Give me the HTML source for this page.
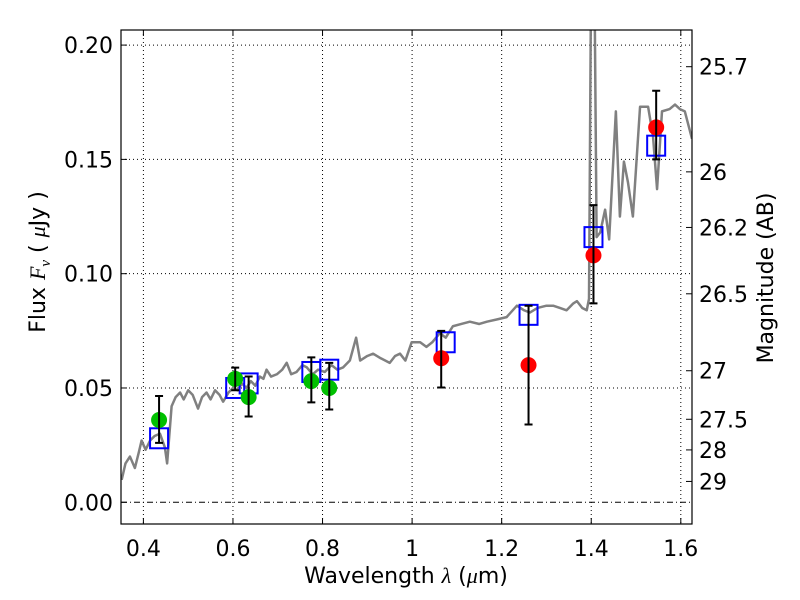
<!DOCTYPE html>
<html><head><meta charset="utf-8"><style>
body{margin:0;background:#fff;}
svg{display:block;font-family:"DejaVu Sans","Liberation Sans",sans-serif;}
</style></head><body>
<svg id="chart" width="800" height="600" viewBox="0 0 800 600"></svg>
<script>
const xTicks=[0.4,0.6,0.8,1.0,1.2,1.4,1.6];
const xTickLabels=["0.4","0.6","0.8","1","1.2","1.4","1.6"];
const yTicks=[0,0.05,0.10,0.15,0.20];
const yTickLabels=["0.00","0.05","0.10","0.15","0.20"];
const magTicks=[25.7,26,26.2,26.5,27,27.5,28,29];
const magTickLabels=["25.7","26","26.2","26.5","27","27.5","28","29"];
const specX=[0.3515,0.36,0.37,0.381,0.39,0.396,0.405,0.415,0.425,0.437,0.448,0.453,0.463,0.472,0.482,0.49,0.5,0.51,0.522,0.531,0.541,0.55,0.56,0.57,0.578,0.59,0.6,0.61,0.62,0.63,0.64,0.65,0.66,0.668,0.675,0.685,0.698,0.71,0.72,0.73,0.742,0.755,0.765,0.778,0.79,0.805,0.82,0.833,0.846,0.861,0.875,0.884,0.9,0.913,0.93,0.95,0.962,0.973,0.985,0.999,1.018,1.032,1.045,1.062,1.075,1.091,1.11,1.129,1.15,1.167,1.19,1.211,1.234,1.25,1.263,1.28,1.3,1.315,1.33,1.345,1.36,1.368,1.38,1.39,1.395,1.399,1.408,1.412,1.42,1.431,1.44,1.455,1.464,1.473,1.482,1.493,1.509,1.527,1.538,1.547,1.558,1.575,1.587,1.598,1.609,1.625];
const specY=[0.0098,0.017,0.020,0.015,0.022,0.027,0.023,0.027,0.029,0.030,0.024,0.017,0.042,0.046,0.048,0.045,0.049,0.047,0.041,0.046,0.048,0.045,0.049,0.047,0.044,0.048,0.050,0.049,0.052,0.050,0.053,0.051,0.055,0.054,0.058,0.055,0.056,0.058,0.061,0.056,0.057,0.060,0.059,0.056,0.058,0.057,0.060,0.058,0.059,0.062,0.072,0.062,0.064,0.065,0.063,0.061,0.064,0.065,0.062,0.070,0.070,0.068,0.070,0.074,0.072,0.077,0.078,0.079,0.078,0.079,0.080,0.081,0.086,0.084,0.083,0.085,0.086,0.086,0.085,0.084,0.087,0.088,0.085,0.084,0.089,0.21,0.21,0.116,0.118,0.128,0.115,0.171,0.125,0.149,0.140,0.125,0.173,0.173,0.160,0.137,0.171,0.172,0.174,0.172,0.171,0.159];
const obsX=[0.435,0.605,0.635,0.775,0.815,1.065,1.26,1.405,1.545];
const obsY=[0.036,0.054,0.046,0.053,0.050,0.063,0.060,0.108,0.164];
const obsLo=[0.026,0.049,0.0375,0.0437,0.0406,0.0502,0.034,0.087,0.150];
const obsHi=[0.0465,0.0589,0.055,0.0634,0.061,0.075,0.086,0.130,0.180];
const obsColor=["#00c000","#00c000","#00c000","#00c000","#00c000","#ff0000","#ff0000","#ff0000","#ff0000"];
const modelX=[0.435,0.605,0.635,0.775,0.815,1.075,1.26,1.405,1.545];
const modelY=[0.028,0.050,0.052,0.057,0.058,0.070,0.082,0.116,0.156];

const L=121,R=692,T=30,B=524,X0=0.35,X1=1.625,Y0=-0.0095,Y1=0.2066;
const sx=v=>L+(v-X0)/(X1-X0)*(R-L);
const sy=v=>B-(v-Y0)/(Y1-Y0)*(B-T);
const svg=document.getElementById('chart');
const NS='http://www.w3.org/2000/svg';
function mk(tag,at,txt){const e=document.createElementNS(NS,tag);for(const k in at)e.setAttribute(k,at[k]);if(txt!==undefined)e.textContent=txt;svg.appendChild(e);return e;}
xTicks.forEach((v,i)=>{
 const g=mk('line',{x1:sx(v),x2:sx(v),y1:T,y2:B,stroke:'#000','stroke-width':1,'stroke-dasharray':'1,3'});
 
 
 const t=mk('line',{x1:sx(v),x2:sx(v),y1:B,y2:B-6,stroke:'#000'});
 
 
 const t2=mk('line',{x1:sx(v),x2:sx(v),y1:T,y2:T+6,stroke:'#000'});
 
 
 const lb=mk('text',{x:sx(v),y:556,'text-anchor':'middle','font-size':22},xTickLabels[i]);
 
 
});
yTicks.forEach((v,i)=>{
 const g=mk('line',{x1:L,x2:R,y1:sy(v),y2:sy(v),stroke:'#000','stroke-width':1,'stroke-dasharray':v===0?'6,3,1,3':'1,3'});
 
 
 const t=mk('line',{x1:L,x2:L+6,y1:sy(v),y2:sy(v),stroke:'#000'});
 
 
 const lb=mk('text',{x:113,y:sy(v)+8,'text-anchor':'end','font-size':22},yTickLabels[i]);
 
 
});
magTicks.forEach((m,i)=>{
 const f=Math.pow(10,(23.9-m)/2.5);
 const t=mk('line',{x1:R-6,x2:R,y1:sy(f),y2:sy(f),stroke:'#000'});
 
 
 const lb=mk('text',{x:699,y:sy(f)+8,'font-size':22},magTickLabels[i]);
 
 
});
const clip=mk('clipPath',{id:'pc'});
const cr=document.createElementNS(NS,'rect');cr.setAttribute('x',L);cr.setAttribute('y',T);cr.setAttribute('width',R-L);cr.setAttribute('height',B-T);clip.appendChild(cr);
const sp=mk('polyline',{points:specX.map((v,i)=>sx(v)+','+sy(specY[i])).join(' '),fill:'none',stroke:'#808080','stroke-width':2.5,'clip-path':'url(#pc)','stroke-linejoin':'round'});


modelX.forEach((v,i)=>{
 const r=mk('rect',{x:sx(v)-9,y:sy(modelY[i])-10,width:18,height:20,fill:'none',stroke:'#0000ff','stroke-width':2});
 
 
});
obsX.forEach((v,i)=>{
 const c=mk('circle',{cx:sx(v),cy:sy(obsY[i]),r:8,fill:obsColor[i]});
 
 
 const x=sx(v),a=sy(obsLo[i]),b=sy(obsHi[i]);
 const e=mk('path',{d:`M${x},${a}V${b}M${x-4},${a}H${x+4}M${x-4},${b}H${x+4}`,stroke:'#000','stroke-width':2,fill:'none'});
 
 
});
const fr=mk('rect',{x:L,y:T,width:R-L,height:B-T,fill:'none',stroke:'#000','stroke-width':1.2});


const xl=mk('text',{x:406,y:583,'text-anchor':'middle','font-size':22},'');
xl.innerHTML='Wavelength  <tspan font-family="Liberation Serif, serif" font-style="italic">λ</tspan> (<tspan font-family="Liberation Serif, serif" font-style="italic">μ</tspan>m)';
xl.setAttribute('xml:space','preserve');


const yl=mk('text',{x:0,y:0,'text-anchor':'middle','font-size':22,transform:'translate(45,262) rotate(-90)'},'');
yl.innerHTML='Flux  <tspan font-family="Liberation Serif, serif" font-style="italic">F</tspan><tspan font-family="Liberation Serif, serif" font-style="italic" font-size="15" dy="5">ν</tspan><tspan dy="-5">  (  </tspan><tspan font-family="Liberation Serif, serif" font-style="italic">μ</tspan>Jy )';


const yr=mk('text',{x:0,y:0,'text-anchor':'middle','font-size':22,transform:'translate(773,278) rotate(-90)'},'Magnitude (AB)');


</script>
</body></html>
